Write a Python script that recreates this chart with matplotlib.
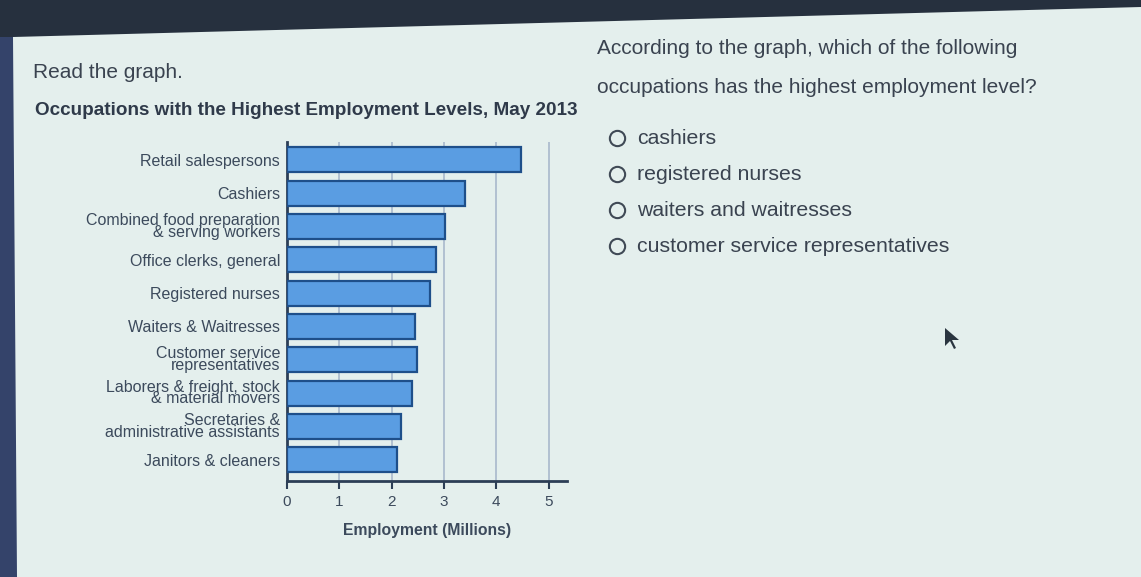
import matplotlib
matplotlib.use("Agg")
import matplotlib.pyplot as plt
from matplotlib.patches import Polygon
from matplotlib.lines import Line2D

occupations = [
    "Retail salespersons",
    "Cashiers",
    "Combined food preparation\n& serving workers",
    "Office clerks, general",
    "Registered nurses",
    "Waiters & Waitresses",
    "Customer service\nrepresentatives",
    "Laborers & freight, stock\n& material movers",
    "Secretaries &\nadministrative assistants",
    "Janitors & cleaners",
]
employment = [4.47, 3.40, 3.02, 2.85, 2.73, 2.45, 2.48, 2.38, 2.18, 2.10]
x_ticks = [0, 1, 2, 3, 4, 5]
options = ["cashiers", "registered nurses", "waiters and waitresses",
           "customer service representatives"]

W, H = 1141, 577
fig = plt.figure(figsize=(W / 100, H / 100), dpi=100)
fig.patch.set_facecolor("#e4efed")

def fx(px):
    return px / W

def fy(py):
    return 1 - py / H

# screen bezel at top / left
fig.patches.append(Polygon([(0, 1), (1, 1), (1, fy(7)), (fx(13), fy(37)), (0, fy(37))],
                           closed=True, transform=fig.transFigure,
                           facecolor="#26303e", edgecolor="none", zorder=0))
fig.patches.append(Polygon([(0, fy(37)), (fx(13), fy(37)), (fx(17), 0), (0, 0)],
                           closed=True, transform=fig.transFigure,
                           facecolor="#34436a", edgecolor="none", zorder=0))

txt_color = "#3a4350"
fig.text(fx(33), fy(73), "Read the graph.", fontsize=15, color=txt_color,
         family="Liberation Sans", va="center")
fig.text(fx(597), fy(48), "According to the graph, which of the following",
         fontsize=15, color=txt_color, family="Liberation Sans", va="center")
fig.text(fx(597), fy(87), "occupations has the highest employment level?",
         fontsize=15, color=txt_color, family="Liberation Sans", va="center")
fig.text(fx(35), fy(111), "Occupations with the Highest Employment Levels, May 2013",
         fontsize=13.6, fontweight="bold", color="#2f3a4a", family="Liberation Sans",
         va="center")

# radio options
for i, opt in enumerate(options):
    yy = 138 + i * 36
    fig.add_artist(Line2D([fx(617)], [fy(yy)], marker="o", markersize=11,
                          markerfacecolor="none", markeredgecolor="#404a56",
                          markeredgewidth=1.5, transform=fig.transFigure))
    fig.text(fx(637), fy(yy), opt, fontsize=15.3, color=txt_color,
             family="Liberation Sans", va="center")

# cursor
fig.patches.append(Polygon([(fx(945), fy(328)), (fx(945), fy(346)), (fx(950), fy(341)),
                            (fx(954), fy(349)), (fx(956), fy(348)), (fx(952), fy(340)),
                            (fx(959), fy(340))], closed=True, transform=fig.transFigure,
                           facecolor="#2a3540", edgecolor="none"))

# chart
ax = fig.add_axes([fx(287), fy(481), fx(567 - 287), fy(142) - fy(481)])
ax.set_facecolor("none")
ypos = list(range(len(occupations)))
ax.barh(ypos, employment, height=0.75, color="#5a9de2", edgecolor="#1e4f8a",
        linewidth=1.6, zorder=3)
ax.set_ylim(9.64, -0.54)
ax.set_xlim(0, 5.35)
ax.set_xticks(x_ticks)
ax.set_xticklabels([str(t) for t in x_ticks], fontsize=11, color="#3c4a5c",
                   family="Liberation Sans")
ax.set_yticks(ypos)
ax.set_yticklabels(occupations, fontsize=11.5, color="#3c4a5c", family="Liberation Sans",
                   linespacing=0.72)
ax.tick_params(axis="y", length=0, pad=5)
ax.tick_params(axis="x", length=6, width=1.5, color="#2c3e56", pad=4, direction="out")
ax.grid(axis="x", color="#a8b8cc", linewidth=1.2, zorder=0)
for s in ["top", "right"]:
    ax.spines[s].set_visible(False)
for s in ["left", "bottom"]:
    ax.spines[s].set_color("#2c3e56")
    ax.spines[s].set_linewidth(2)
ax.set_xlabel("Employment (Millions)", fontsize=11.3, fontweight="bold", color="#3c4a5c",
              family="Liberation Sans", labelpad=10)

fig.savefig("out.png", dpi=100, facecolor=fig.get_facecolor())
